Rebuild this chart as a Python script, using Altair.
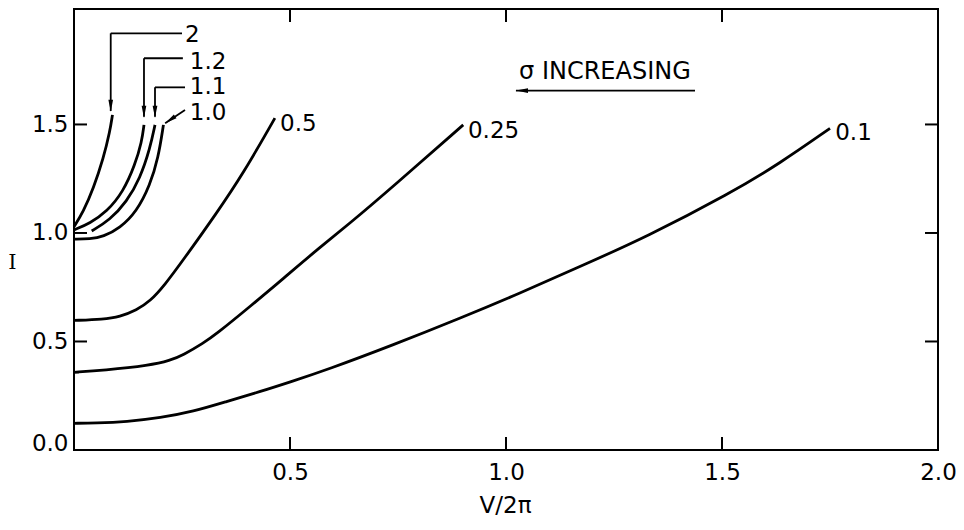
import altair as alt
import pandas as pd

# ---- curve data ----
s01_x = [0.0, 0.05, 0.122, 0.2, 0.276, 0.353, 0.431, 0.5, 0.585, 0.739, 0.894, 1.032, 1.171, 1.326, 1.519, 1.634, 1.75]
s01_y = [0.123, 0.124, 0.130, 0.148, 0.177, 0.223, 0.269, 0.313, 0.369, 0.484, 0.607, 0.722, 0.845, 0.983, 1.183, 1.321, 1.482]

s025_x = [0.0, 0.068, 0.176, 0.222, 0.253, 0.299, 0.330, 0.407, 0.485, 0.562, 0.639, 0.739, 0.901]
s025_y = [0.358, 0.367, 0.390, 0.412, 0.438, 0.492, 0.535, 0.66, 0.791, 0.922, 1.045, 1.215, 1.498]

s05_x = [0.0, 0.068, 0.106, 0.145, 0.176, 0.21, 0.253, 0.330, 0.392, 0.465]
s05_y = [0.597, 0.602, 0.614, 0.645, 0.685, 0.76, 0.876, 1.091, 1.275, 1.529]

s10_x = [0.0, 0.037, 0.068, 0.106, 0.145, 0.176, 0.195, 0.207]
s10_y = [0.972, 0.972, 0.983, 1.022, 1.098, 1.221, 1.345, 1.498]

s11_x = [0.041, 0.083, 0.122, 0.153, 0.176, 0.1875]
s11_y = [1.009, 1.06, 1.144, 1.252, 1.39, 1.498]

s12_x = [0.0, 0.037, 0.076, 0.114, 0.141, 0.157, 0.162]
s12_y = [1.014, 1.045, 1.098, 1.19, 1.313, 1.421, 1.498]

s2_x = [0.0, 0.0215, 0.045, 0.068, 0.083, 0.089]
s2_y = [1.029, 1.098, 1.206, 1.344, 1.467, 1.544]

curves = {"0.1": (s01_x, s01_y), "0.25": (s025_x, s025_y), "0.5": (s05_x, s05_y),
          "1.0": (s10_x, s10_y), "1.1": (s11_x, s11_y), "1.2": (s12_x, s12_y),
          "2": (s2_x, s2_y)}

# curve labels
label_text = ["0.5", "0.25", "0.1", "2", "1.2", "1.1", "1.0"]
label_x = [0.477, 0.912, 1.762, 0.257, 0.268, 0.268, 0.268]
label_y = [1.50, 1.47, 1.46, 1.912, 1.786, 1.671, 1.553]

# leader segments for the crowded labels and the sigma arrow
seg_x1 = [0.085, 0.085, 0.162, 0.162, 0.1875, 0.1875, 0.257, 1.023]
seg_y1 = [1.92, 1.92, 1.805, 1.805, 1.671, 1.671, 1.567, 1.656]
seg_x2 = [0.25, 0.085, 0.252, 0.162, 0.257, 0.1875, 0.211, 1.4375]
seg_y2 = [1.92, 1.562, 1.805, 1.535, 1.671, 1.535, 1.506, 1.656]

# arrow heads (tip positions and direction in degrees)
arrow_x = [0.085, 0.162, 0.1875, 0.211, 1.023]
arrow_y = [1.558, 1.53, 1.53, 1.506, 1.656]
arrow_ang = [180, 180, 180, 236, 270]

note_text = ["σ INCREASING"]
note_x = [1.229]
note_y = [1.742]

x_ticks = [0.5, 1.0, 1.5]
y_ticks = [0.5, 1.0, 1.5]
x_labels = [0.5, 1.0, 1.5, 2.0]
y_labels = [0.0, 0.5, 1.0, 1.5]

X_MAX = 2.0
Y_MAX = 2.032

rows = []
for s, (xs, ys) in curves.items():
    for a, b in zip(xs, ys):
        rows.append({"sigma": s, "x": a, "y": b})
df = pd.DataFrame(rows)

FONT = "DejaVu Sans"

xscale = alt.Scale(domain=[0, X_MAX], nice=False, zero=False)
yscale = alt.Scale(domain=[0, Y_MAX], nice=False, zero=False)

xaxis = alt.Axis(values=x_labels, format=".1f", ticks=False, domain=False, grid=False,
                 labelFlush=False, labelOverlap=False, labelPadding=11,
                 labelFont=FONT, labelFontSize=23, labelColor="black",
                 title="V/2π", titleFont=FONT, titleFontSize=23, titleFontWeight="normal",
                 titleColor="black", titleX=431, titleY=62, titleAlign="center",
                 titleBaseline="alphabetic")
yaxis = alt.Axis(values=y_labels, format=".1f", ticks=False, domain=False, grid=False,
                 labelFlush=False, labelOverlap=False, labelPadding=6,
                 labelFont=FONT, labelFontSize=23, labelColor="black",
                 labelOffset={"condition": {"test": "datum.value == 0", "value": -7}, "value": 0},
                 title="I", titleFont="DejaVu Serif", titleFontSize=21, titleFontWeight="normal",
                 titleColor="black", titleAngle=0, titleX=-62, titleY=253,
                 titleAlign="center", titleBaseline="middle")

lines = alt.Chart(df).mark_line(color="black", strokeWidth=2.8, interpolate="basis").encode(
    x=alt.X("x:Q", scale=xscale, axis=xaxis),
    y=alt.Y("y:Q", scale=yscale, axis=yaxis),
    detail="sigma:N",
)

lab_df = pd.DataFrame({"t": label_text, "x": label_x, "y": label_y})
labels = alt.Chart(lab_df).mark_text(font=FONT, fontSize=23, align="left", baseline="middle",
                                     color="black").encode(x="x:Q", y="y:Q", text="t:N")

seg_df = pd.DataFrame({"x": seg_x1, "y": seg_y1, "x2": seg_x2, "y2": seg_y2})
segs = alt.Chart(seg_df).mark_rule(color="black", strokeWidth=1.8).encode(
    x="x:Q", y="y:Q", x2="x2:Q", y2="y2:Q")

arr_df = pd.DataFrame({"x": arrow_x, "y": arrow_y, "a": arrow_ang})
arrows = alt.Chart(arr_df).mark_point(shape="M0,0L0.35,1.8L-0.35,1.8Z", filled=True, size=180,
                                      color="black", opacity=1, strokeWidth=0).encode(
    x="x:Q", y="y:Q", angle=alt.Angle("a:Q", scale=None))

note_df = pd.DataFrame({"t": note_text, "x": note_x, "y": note_y})
note = alt.Chart(note_df).mark_text(font=FONT, fontSize=24, align="center", baseline="middle",
                                    color="black").encode(x="x:Q", y="y:Q", text="t:N")

xt_df = pd.DataFrame({"v": x_ticks})
yt_df = pd.DataFrame({"v": y_ticks})
tick_kw = dict(size=26, thickness=2, color="black", opacity=1, clip=True)
tick_bottom = alt.Chart(xt_df).mark_tick(orient="vertical", **tick_kw).encode(x="v:Q", y=alt.datum(0))
tick_top = alt.Chart(xt_df).mark_tick(orient="vertical", **tick_kw).encode(x="v:Q", y=alt.datum(Y_MAX))
tick_left = alt.Chart(yt_df).mark_tick(orient="horizontal", **tick_kw).encode(y="v:Q", x=alt.datum(0))
tick_right = alt.Chart(yt_df).mark_tick(orient="horizontal", **tick_kw).encode(y="v:Q", x=alt.datum(X_MAX))

chart = alt.layer(lines, labels, segs, arrows, note, tick_bottom, tick_top, tick_left, tick_right).properties(
    width=864, height=441,
    background="white",
    autosize=alt.AutoSizeParams(type="none"),
    padding={"left": 66, "top": 1, "right": 18, "bottom": 72},
).configure_view(stroke="black", strokeWidth=2)

chart.save("out.html", embed_options={"renderer": "svg", "actions": False})
